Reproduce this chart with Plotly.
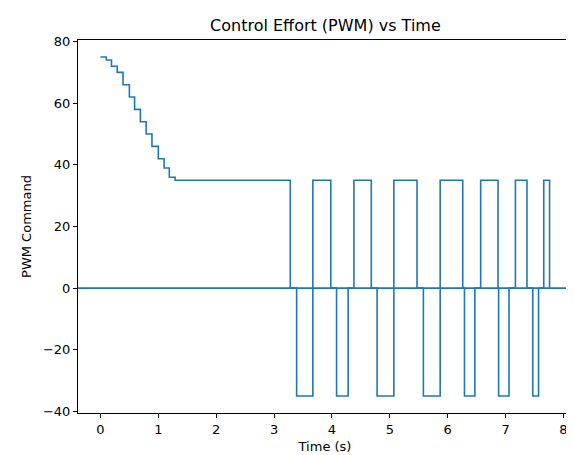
from plotly import graph_objects as go

# step vertices (time, PWM)
time_s = [0.0, 0.1, 0.19, 0.29, 0.39, 0.5, 0.59, 0.69, 0.79, 0.89, 1.0, 1.1, 1.19, 1.29,
          3.28, 3.39, 3.67, 3.98, 4.08, 4.28, 4.38, 4.68, 4.78, 5.07, 5.47, 5.58, 5.87,
          6.26, 6.29, 6.47, 6.57, 6.87, 6.88, 7.06, 7.17, 7.37, 7.47, 7.57, 7.66, 7.76]
pwm = [75, 74, 72, 70, 66, 62, 58, 54, 50, 46, 42, 39, 36, 35,
       0, -35, 35, 0, -35, 0, 35, 0, -35, 35, 0, -35, 35,
       0, -35, 0, 35, 0, -35, 0, 35, 0, -35, 0, 35, 0]

blue = "#1f77b4"
axis_style = dict(showgrid=False, zeroline=False, showline=True, mirror=True,
                  linecolor="black", linewidth=1, ticks="outside", ticklen=4,
                  tickcolor="black", tickfont=dict(size=13), automargin=False)

fig = go.Figure()
fig.add_trace(go.Scatter(x=time_s, y=pwm, mode="lines", line_shape="hv",
                         line=dict(color=blue, width=1.6), showlegend=False))
fig.add_hline(y=0, line=dict(color=blue, width=1.6))

fig.update_layout(
    width=574, height=455,
    margin=dict(l=70, r=10, t=32, b=50, autoexpand=False),
    plot_bgcolor="white", paper_bgcolor="white",
    font=dict(family="DejaVu Sans", color="black", size=13),
    title=dict(text="Control Effort (PWM) vs Time", x=0.553, xanchor="center",
               y=0.962, yanchor="middle", font=dict(size=16)),
    xaxis=dict(axis_style, title=dict(text="Time (s)", standoff=6, font=dict(size=13)),
               range=[-0.388, 8.148], dtick=1),
    yaxis=dict(axis_style, title=dict(text="PWM Command", standoff=8, font=dict(size=13)),
               range=[-40.5, 80.5], dtick=20),
)
fig.write_html("out.html")
